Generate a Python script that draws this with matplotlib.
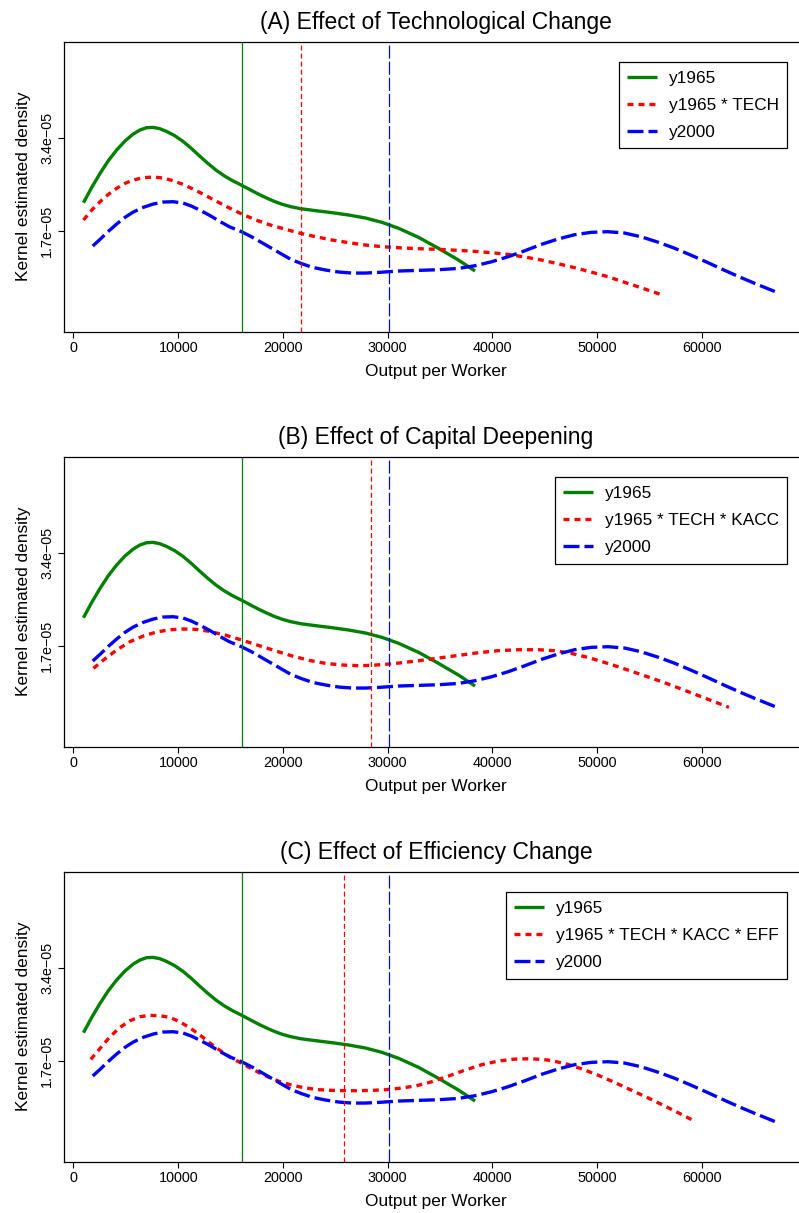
import numpy as np
import matplotlib
matplotlib.use("Agg")
import matplotlib.pyplot as plt

plt.rcParams['font.family'] = ['Liberation Sans', 'DejaVu Sans']
plt.rcParams['lines.scale_dashes'] = False

SCALE = 1e-5  # densities below are in units of 1e-5

# y1965 kernel density
x_1965 = [951, 1743, 2536, 3328, 4120, 4913, 5705, 6339, 6973, 7607, 8241, 8875,
          9667, 10460, 11252, 12044, 12837, 13629, 14422, 15214, 16070, 16799,
          17591, 18383, 19176, 19968, 20761, 21712, 23138, 24723, 26308, 27892,
          29477, 31062, 32964, 34865, 36767, 38352]
d_1965 = [2.212, 2.492, 2.748, 2.980, 3.175, 3.339, 3.467, 3.540, 3.583, 3.589,
          3.565, 3.516, 3.437, 3.333, 3.205, 3.065, 2.930, 2.805, 2.700, 2.612,
          2.530, 2.456, 2.376, 2.303, 2.236, 2.181, 2.139, 2.102, 2.066, 2.029,
          1.986, 1.932, 1.852, 1.743, 1.578, 1.377, 1.164, 0.963]

# y2000 kernel density
x_2000 = [1838, 2536, 3328, 4120, 4913, 5705, 6656, 7607, 8558, 9509, 10460,
          11252, 12044, 12995, 13946, 14897, 16070, 17116, 18383, 19651, 20761,
          21712, 22821, 24089, 25357, 26624, 27892, 29160, 31062, 32964, 34865,
          36767, 38352, 39937, 41521, 43106, 44691, 46276, 47860, 49445, 51030,
          52615, 54200, 55784, 57369, 58954, 60539, 62124, 63708, 65293, 67036]
d_2000 = [1.420, 1.542, 1.688, 1.822, 1.944, 2.041, 2.127, 2.187, 2.224, 2.230,
          2.206, 2.151, 2.078, 1.982, 1.873, 1.772, 1.680, 1.578, 1.438, 1.298,
          1.176, 1.103, 1.030, 0.981, 0.944, 0.926, 0.926, 0.938, 0.963, 0.975,
          0.987, 1.011, 1.060, 1.133, 1.225, 1.334, 1.450, 1.548, 1.627, 1.670,
          1.682, 1.658, 1.590, 1.493, 1.383, 1.255, 1.121, 0.981, 0.847, 0.719,
          0.585]

# counterfactual: y1965 * TECH
x_tech = [951, 1743, 2536, 3328, 4120, 4913, 5705, 6656, 7607, 8558, 9509, 10460,
          11411, 12361, 13312, 14580, 16070, 17433, 18700, 20285, 21712, 23138,
          24723, 26308, 27892, 29477, 31062, 32964, 34865, 36767, 38352, 39937,
          41521, 43106, 44691, 46276, 47860, 49445, 51030, 52615, 54200, 56260]
d_tech = [1.895, 2.078, 2.230, 2.364, 2.474, 2.565, 2.626, 2.669, 2.681, 2.663,
          2.614, 2.547, 2.462, 2.370, 2.273, 2.145, 2.005, 1.895, 1.810, 1.724,
          1.651, 1.590, 1.529, 1.481, 1.438, 1.408, 1.389, 1.371, 1.359, 1.341,
          1.322, 1.298, 1.267, 1.219, 1.164, 1.097, 1.024, 0.944, 0.860, 0.758,
          0.658, 0.524]

# counterfactual: y1965 * TECH * KACC
x_kacc = [1902, 2853, 4120, 5388, 6656, 7924, 9192, 10460, 11727, 12995, 14580,
          16070, 17750, 19334, 20919, 22504, 24089, 25674, 27258, 28431, 29794,
          31062, 32964, 34865, 36767, 38669, 40571, 42472, 44374, 45959, 47544,
          49128, 50713, 52298, 53883, 55468, 57052, 58637, 60222, 62599]
d_kacc = [1.286, 1.438, 1.621, 1.773, 1.877, 1.950, 1.992, 2.005, 1.999, 1.962,
          1.889, 1.804, 1.700, 1.603, 1.511, 1.432, 1.377, 1.347, 1.334, 1.341,
          1.359, 1.383, 1.426, 1.474, 1.523, 1.572, 1.609, 1.627, 1.627, 1.609,
          1.560, 1.487, 1.395, 1.298, 1.194, 1.091, 0.981, 0.865, 0.749, 0.573]

# counterfactual: y1965 * TECH * KACC * EFF
x_eff = [1648, 2536, 3487, 4437, 5388, 6339, 7290, 8241, 9192, 10143, 11094,
         12044, 12995, 13946, 14897, 16070, 17116, 18383, 19651, 20919, 22187,
         23455, 24723, 25991, 27258, 28526, 29794, 31062, 32647, 34231, 35816,
         37401, 38986, 40571, 42155, 43740, 45325, 46910, 48494, 50079, 51664,
         53249, 54834, 56418, 58003, 59429]
d_eff = [1.724, 1.925, 2.139, 2.309, 2.431, 2.504, 2.529, 2.523, 2.492, 2.413,
         2.303, 2.175, 2.029, 1.895, 1.773, 1.650, 1.542, 1.420, 1.322, 1.249,
         1.200, 1.170, 1.158, 1.152, 1.152, 1.158, 1.170, 1.194, 1.237, 1.316,
         1.420, 1.529, 1.627, 1.694, 1.730, 1.736, 1.712, 1.651, 1.554, 1.438,
         1.304, 1.164, 1.024, 0.877, 0.725, 0.585]

# mean output per worker
mean_1965 = 16070
mean_2000 = 30174
mean_cf = [21711, 28431, 25800]

titles = ["(A) Effect of Technological Change",
          "(B) Effect of Capital Deepening",
          "(C) Effect of Efficiency Change"]
cf_labels = ["y1965 * TECH", "y1965 * TECH * KACC", "y1965 * TECH * KACC * EFF"]
cf_x = [x_tech, x_kacc, x_eff]
cf_d = [d_tech, d_kacc, d_eff]

xticks = [0, 10000, 20000, 30000, 40000, 50000, 60000]
yticks = [1.7e-5, 3.4e-5]
ytick_labels = ["1.7e\u221205", "3.4e\u221205"]

W, H = 799, 1213
fig = plt.figure(figsize=(W / 100, H / 100), dpi=100)

panel_bottoms = [331.7, 746.7, 1161.7]  # pixel rows of the x axes
ax_left, ax_w, ax_h = 64, 744, 290

for i in range(3):
    ax = fig.add_axes([ax_left / W, 1 - panel_bottoms[i] / H, ax_w / W, ax_h / H])

    ax.plot(x_1965, np.array(d_1965) * SCALE, color='green', lw=2.4,
            solid_capstyle='butt', solid_joinstyle='round', label="y1965")
    ax.plot(cf_x[i], np.array(cf_d[i]) * SCALE, color='red', lw=2.4,
            dashes=(4.3, 3.6), dash_capstyle='butt', label=cf_labels[i])
    ax.plot(x_2000, np.array(d_2000) * SCALE, color='blue', lw=2.4,
            dashes=(11.5, 3.6), dash_capstyle='butt', label="y2000")

    ax.axvline(mean_1965, color='green', lw=0.9)
    ax.axvline(mean_cf[i], color='red', lw=0.9, dashes=(3.6, 2.2))
    ax.axvline(mean_2000, color='blue', lw=0.9, dashes=(9.4, 2.2))

    ax.set_xlim(-907, 70153)
    ax.set_ylim(-1.46e-6, 5.155e-5)
    ax.set_xticks(xticks)
    ax.set_xticklabels([str(t) for t in xticks])
    ax.set_yticks(yticks)
    ax.set_yticklabels(ytick_labels, rotation=90, va='center')
    ax.tick_params(direction='out', length=4.5, width=0.8, labelsize=10.4,
                   pad=2.5, colors='black')

    for s in ax.spines.values():
        s.set_linewidth(0.9)
        s.set_color('black')

    ax.set_title(titles[i], fontsize=16.5, pad=9)
    ax.set_xlabel("Output per Worker", fontsize=12.4, labelpad=6)
    ax.set_ylabel("Kernel estimated density", fontsize=12.4, labelpad=7)

    leg = ax.legend(loc='upper right', bbox_to_anchor=(0.972, 0.930),
                    fontsize=12.4, fancybox=False, framealpha=1,
                    edgecolor='black', handlelength=1.7, handletextpad=0.7,
                    labelspacing=0.7, borderpad=0.5, borderaxespad=0)
    leg.get_frame().set_linewidth(0.9)

fig.savefig("out.png", dpi=100)
